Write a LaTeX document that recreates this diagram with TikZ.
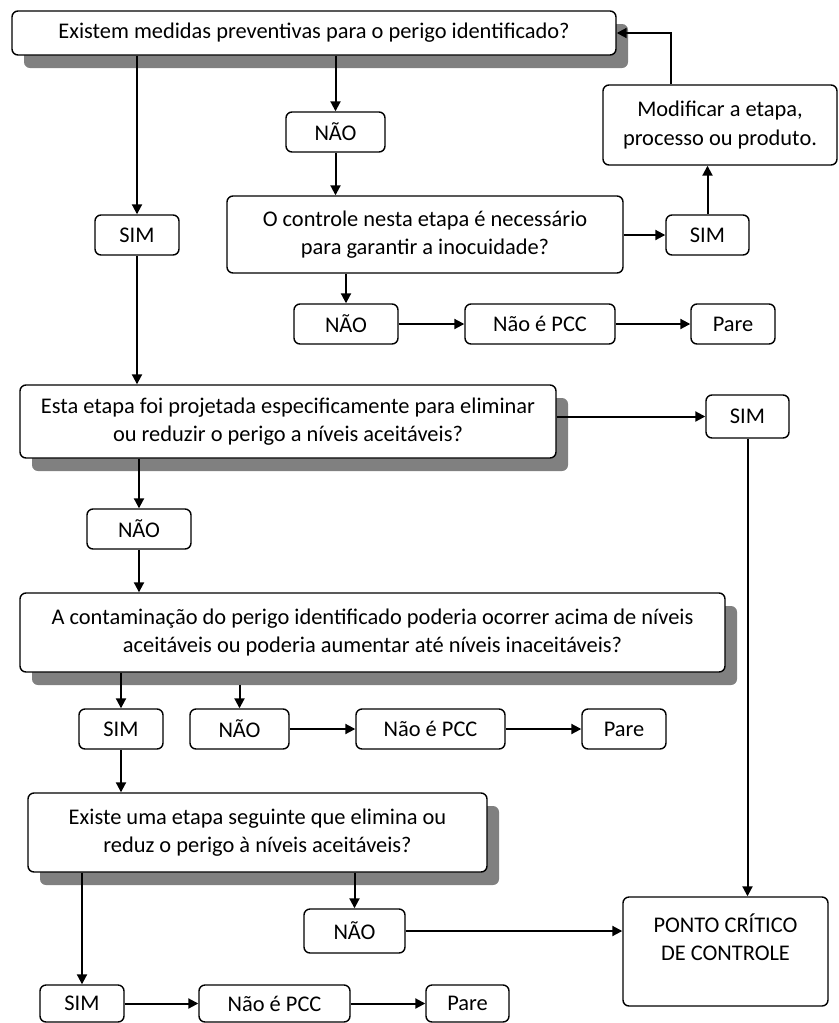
\documentclass[tikz,border=0pt]{standalone}
\usepackage{fontspec}
\setmainfont{Carlito}
\usepackage{tikz}
\usetikzlibrary{arrows.meta,shadows}

\tikzset{
  box/.style={draw, line width=0.7pt, rounded corners=3pt, fill=white,
    inner sep=0pt, align=center, font=\fontsize{11.2}{14.3}\selectfont},
  qbox/.style={box, drop shadow={shadow xshift=6pt, shadow yshift=-6.5pt,
    fill=black!50, opacity=1}},
  arr/.style={line width=1pt, -{Triangle[length=5pt,width=5pt]}},
  wd/.style={minimum width=#1*0.5pt},
  ht/.style={minimum height=#1*0.5pt}
}

\begin{document}
\begin{tikzpicture}[x=0.5pt,y=-0.5pt]
    \useasboundingbox (0,0) rectangle (839,1023);

    \node[qbox,wd=604,ht=44] (q1) at (314,33) {Existem medidas preventivas para o perigo identificado?};
    \node[box,wd=99,ht=40] (nao1) at (335.5,132) {NÃO};
    \node[box,wd=234,ht=80] (mod) at (720,125) {Modificar a etapa,\\processo ou produto.};
    \node[box,wd=84,ht=40] (sim1) at (137,235) {SIM};
    \node[box,wd=396,ht=77] (q2) at (425,234.5) {O controle nesta etapa é necessário\\para garantir a inocuidade?};
    \node[box,wd=83,ht=40] (sim2) at (707.5,235) {SIM};
    \node[box,wd=104,ht=40] (nao2) at (346,324) {NÃO};
    \node[box,wd=150,ht=40] (npcc1) at (540,324) {Não é PCC};
    \node[box,wd=84,ht=40] (pare1) at (733,324) {Pare};

    \node[qbox,wd=536,ht=73] (q3) at (288,421.5) {Esta etapa foi projetada especificamente para eliminar\\ou reduzir o perigo a níveis aceitáveis?};
    \node[box,wd=83,ht=43] (sim3) at (747.5,416.5) {SIM};
    \node[box,wd=104,ht=40] (nao3) at (139,529) {NÃO};

    \node[qbox,wd=705,ht=79] (q4) at (372.5,632.5) {A contaminação do perigo identificado poderia ocorrer acima de níveis\\aceitáveis ou poderia aumentar até níveis inaceitáveis?};
    \node[box,wd=84,ht=40] (sim4) at (121,729) {SIM};
    \node[box,wd=99,ht=40] (nao4) at (239.5,729) {NÃO};
    \node[box,wd=149,ht=40] (npcc2) at (430.5,729) {Não é PCC};
    \node[box,wd=84,ht=40] (pare2) at (624,729) {Pare};

    \node[qbox,wd=459,ht=79] (q5) at (257.5,832.5) {Existe uma etapa seguinte que elimina ou\\reduz o perigo à níveis aceitáveis?};
    \node[box,wd=101,ht=44] (nao5) at (354.5,931) {NÃO};
    \node[box,wd=205,ht=109] (pcc) at (725.5,951.5) {PONTO CRÍTICO\\DE CONTROLE\\\mbox{}};
    \node[box,wd=84,ht=37] (sim5) at (82,1003.5) {SIM};
    \node[box,wd=151,ht=37] (npcc3) at (274.5,1003.5) {Não é PCC};
    \node[box,wd=83,ht=37] (pare3) at (467.5,1003.5) {Pare};

%arrows
    \draw[arr] (q1.south -| sim1.north) -- (sim1.north);
    \draw[arr] (q1.south -| nao1.north) -- (nao1.north);
    \draw[arr] (nao1.south) -- (nao1.south |- q2.north);
    \draw[arr] (q2.east |- sim2) -- (sim2.west);
    \draw[arr] (sim2.north) -- (sim2.north |- mod.south);
    \draw[arr] ([xshift=-24.5pt]mod.north) |- (q1.east);
    \draw[arr] (q2.south -| nao2.north) -- (nao2.north);
    \draw[arr] (nao2) -- (npcc1);
    \draw[arr] (npcc1) -- (pare1);

    \draw[arr] (sim1.south) -- (sim1.south |- q3.north);
    \draw[arr] (q3.east |- sim3) -- (sim3.west);
    \draw[arr] (sim3.south) -- (sim3.south |- pcc.north);
    \draw[arr] (q3.south -| nao3.north) -- (nao3.north);
    \draw[arr] (nao3.south) -- (nao3.south |- q4.north);

    \draw[arr] (q4.south -| sim4.north) -- (sim4.north);
    \draw[arr] ([yshift=-6pt]q4.south -| nao4.north) -- (nao4.north);
    \draw[arr] (nao4) -- (npcc2);
    \draw[arr] (npcc2) -- (pare2);
    \draw[arr] (sim4.south) -- (sim4.south |- q5.north);

    \draw[arr] (q5.south -| sim5.north) -- (sim5.north);
    \draw[arr] (q5.south -| nao5.north) -- (nao5.north);
    \draw[arr] (nao5.east) -- (nao5.east -| pcc.west);
    \draw[arr] (sim5) -- (npcc3);
    \draw[arr] (npcc3) -- (pare3);

\end{tikzpicture}
\end{document}
